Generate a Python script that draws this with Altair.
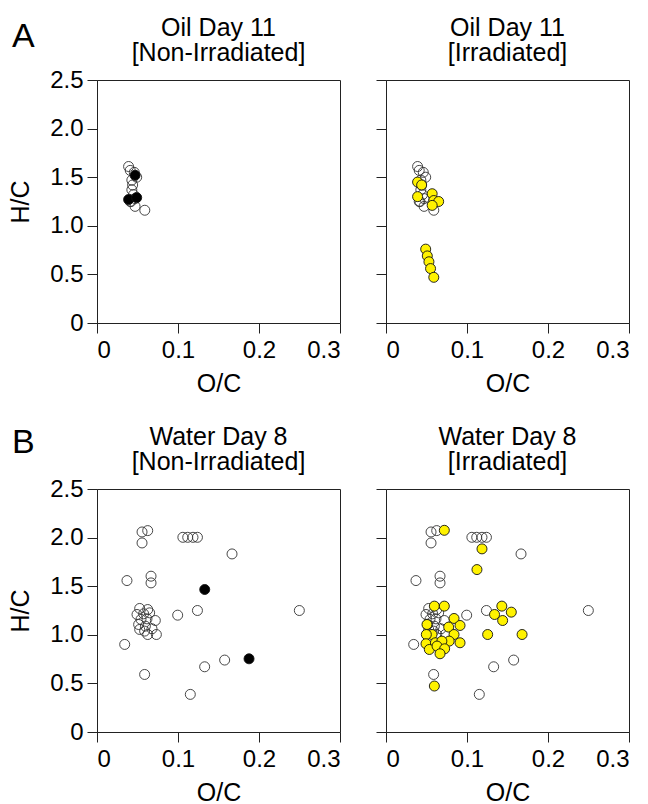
import altair as alt
import pandas as pd

FONT = "Liberation Sans"

# ---------------- Panel A: Oil Day 11 ----------------
a_open_oc = [0.039, 0.041, 0.046, 0.049, 0.043, 0.044, 0.043, 0.045, 0.047, 0.041, 0.042, 0.047, 0.059]
a_open_hc = [1.61, 1.57, 1.55, 1.50, 1.47, 1.42, 1.37, 1.32, 1.28, 1.25, 1.25, 1.20, 1.16]
a_dark_oc = [0.047, 0.039, 0.049]
a_dark_hc = [1.52, 1.27, 1.29]
a_yel_oc = [0.039, 0.044, 0.039, 0.057, 0.059, 0.065, 0.057, 0.049, 0.051, 0.053, 0.055, 0.059]
a_yel_hc = [1.45, 1.42, 1.30, 1.33, 1.26, 1.25, 1.21, 0.76, 0.69, 0.63, 0.56, 0.47]

# ---------------- Panel B: Water Day 8 ----------------
b_open_oc = [0.0556, 0.0626, 0.0556, 0.106, 0.112, 0.1185, 0.124, 0.1667, 0.037, 0.0667, 0.0667,
             0.0527, 0.0626, 0.0494, 0.0576, 0.065, 0.0543, 0.0617, 0.072, 0.0514, 0.0597, 0.0679,
             0.0527, 0.0588, 0.0626, 0.0733,
             0.0996, 0.124, 0.2498, 0.0342, 0.1576, 0.1329, 0.0588, 0.1152]
b_open_hc = [2.058, 2.072, 1.945, 2.003, 2.003, 2.003, 2.003, 1.832, 1.558, 1.603, 1.534,
             1.271, 1.260, 1.209, 1.216, 1.226, 1.158, 1.164, 1.147, 1.106, 1.089, 1.062,
             1.055, 1.038, 1.003, 1.003,
             1.202, 1.250, 1.250, 0.901, 0.740, 0.671, 0.592, 0.387]
b_dark_oc = [0.133, 0.1877]
b_dark_hc = [1.466, 0.753]
b_yel_oc = [0.072, 0.1185, 0.1123, 0.0597, 0.072, 0.143, 0.1547, 0.134, 0.144, 0.084, 0.0914,
            0.0774, 0.0506, 0.0568, 0.0498, 0.084, 0.1255, 0.168, 0.078, 0.0914, 0.0494, 0.061,
            0.069, 0.0535, 0.063, 0.0724, 0.0667, 0.0597]
b_yel_hc = [2.075, 1.884, 1.671, 1.295, 1.295, 1.295, 1.233, 1.209, 1.147, 1.168, 1.096,
            1.079, 1.106, 1.003, 1.003, 1.003, 1.003, 1.003, 0.935, 0.918, 0.908, 0.918,
            0.935, 0.849, 0.884, 0.856, 0.805, 0.473]

x_ticks = [0, 0.1, 0.2, 0.3]
y_ticks = [0, 0.5, 1.0, 1.5, 2.0, 2.5]
YELLOW = "#FFF200"
W = 243
H = 243


def txt(s, x, y, size, align="center"):
    return alt.Chart(pd.DataFrame({"t": [s]})).mark_text(
        font=FONT, fontSize=size, align=align, baseline="alphabetic", color="black"
    ).encode(text="t:N", x=alt.value(x), y=alt.value(y))


def panel(open_oc, open_hc, f_oc, f_hc, f_color, title, first, letter=None, letter_y=-33):
    x = alt.X("oc:Q",
              scale=alt.Scale(domain=[0, 0.3], nice=False, zero=False),
              axis=alt.Axis(values=x_ticks, title="O/C",
                            labelExpr="datum.value == 0 ? '0' : format(datum.value, '.1f')"))
    if first:
        yax = alt.Axis(values=y_ticks, title="H/C",
                       labelExpr="datum.value == 0 ? '0' : format(datum.value, '.1f')")
    else:
        yax = alt.Axis(values=y_ticks, title=None, labels=False)
    y = alt.Y("hc:Q", scale=alt.Scale(domain=[0, 2.5], nice=False, zero=False), axis=yax)

    open_layer = alt.Chart(pd.DataFrame({"oc": open_oc, "hc": open_hc})).mark_point(
        shape="circle", filled=False, size=100, color="#333333", strokeWidth=0.9, opacity=1
    ).encode(x=x, y=y)
    fill_layer = alt.Chart(pd.DataFrame({"oc": f_oc, "hc": f_hc})).mark_circle(
        size=100, color=f_color, stroke="#111111", strokeWidth=0.9, opacity=1
    ).encode(x=x, y=y)
    layers = [open_layer, fill_layer,
              txt(title[0], W / 2, -44, 25),
              txt(title[1], W / 2, -19, 25)]
    if letter:
        layers.append(txt(letter, -85, letter_y, 34, align="left"))
    return alt.layer(*layers).properties(width=W, height=H)


a1 = panel(a_open_oc, a_open_hc, a_dark_oc, a_dark_hc, "black",
           ["Oil Day 11", "[Non-Irradiated]"], True, "A", -33)
a2 = panel(a_open_oc, a_open_hc, a_yel_oc, a_yel_hc, YELLOW,
           ["Oil Day 11", "[Irradiated]"], False)
b1 = panel(b_open_oc, b_open_hc, b_dark_oc, b_dark_hc, "black",
           ["Water Day 8", "[Non-Irradiated]"], True, "B", -36)
b2 = panel(b_open_oc, b_open_hc, b_yel_oc, b_yel_hc, YELLOW,
           ["Water Day 8", "[Irradiated]"], False)

chart = alt.vconcat(
    alt.hconcat(a1, a2, spacing=34),
    alt.hconcat(b1, b2, spacing=34),
    spacing=27,
).properties(
    padding={"left": 8, "top": 15, "right": 5, "bottom": 2},
    background="white",
).configure_view(
    stroke="#222222", strokeWidth=1
).configure_axis(
    grid=False, domainColor="#222222", tickColor="#222222", tickSize=10,
    labelFont=FONT, labelFontSize=24, labelColor="black",
    titleFont=FONT, titleFontSize=25, titleFontWeight="normal", titleColor="black",
).configure_axisX(
    labelPadding=5, titlePadding=9
).configure_axisY(
    labelPadding=4, titlePadding=16
)

chart.save("out.html", embed_options={"renderer": "svg", "actions": False})
